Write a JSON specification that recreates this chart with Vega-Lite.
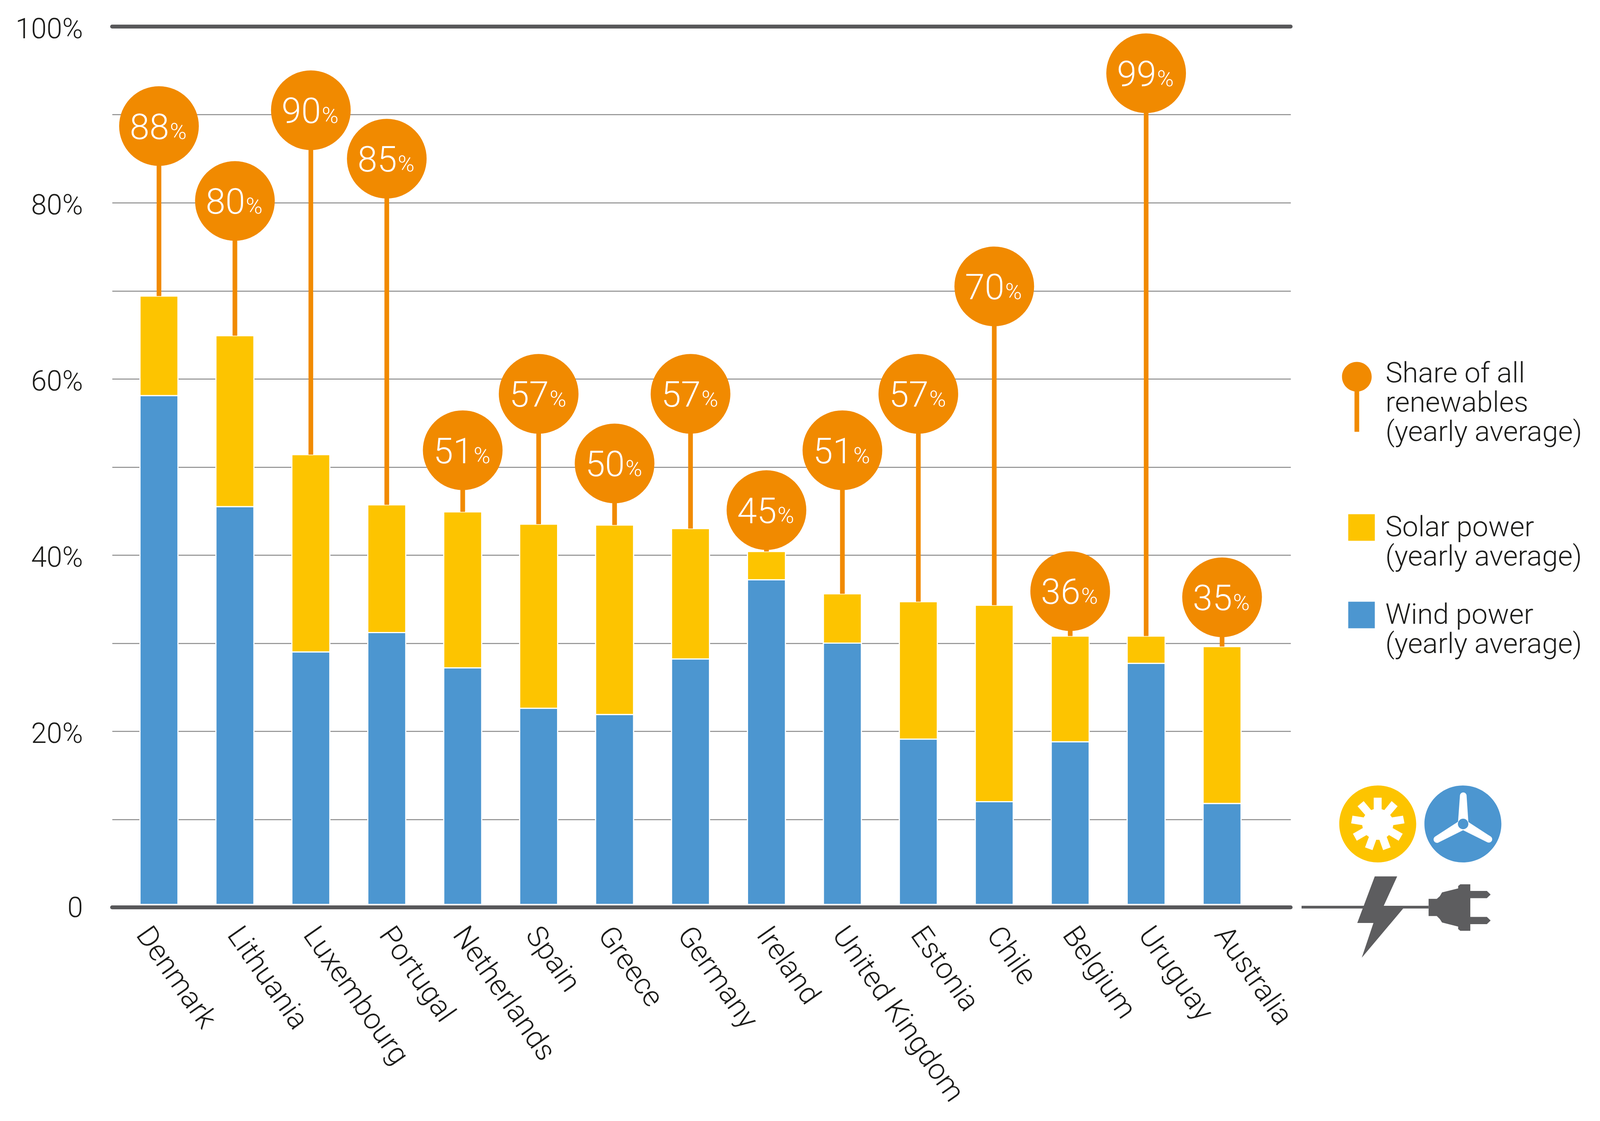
{"$schema":"https://vega.github.io/schema/vega-lite/v6.json","autosize":"none","width":3017,"height":2255,"padding":{"left":287,"top":68,"right":792,"bottom":547},"background":"white","config":{"view":{"stroke":null},"text":{"font":"Roboto"}},"datasets":{"bars":[{"country":"Denmark","source":"Wind power|(yearly average)","value":58.1},{"country":"Denmark","source":"Solar power|(yearly average)","value":11.3},{"country":"Lithuania","source":"Wind power|(yearly average)","value":45.5},{"country":"Lithuania","source":"Solar power|(yearly average)","value":19.4},{"country":"Luxembourg","source":"Wind power|(yearly average)","value":29},{"country":"Luxembourg","source":"Solar power|(yearly average)","value":22.4},{"country":"Portugal","source":"Wind power|(yearly average)","value":31.2},{"country":"Portugal","source":"Solar power|(yearly average)","value":14.5},{"country":"Netherlands","source":"Wind power|(yearly average)","value":27.2},{"country":"Netherlands","source":"Solar power|(yearly average)","value":17.7},{"country":"Spain","source":"Wind power|(yearly average)","value":22.6},{"country":"Spain","source":"Solar power|(yearly average)","value":20.9},{"country":"Greece","source":"Wind power|(yearly average)","value":21.9},{"country":"Greece","source":"Solar power|(yearly average)","value":21.5},{"country":"Germany","source":"Wind power|(yearly average)","value":28.2},{"country":"Germany","source":"Solar power|(yearly average)","value":14.8},{"country":"Ireland","source":"Wind power|(yearly average)","value":37.2},{"country":"Ireland","source":"Solar power|(yearly average)","value":3.2},{"country":"United Kingdom","source":"Wind power|(yearly average)","value":30},{"country":"United Kingdom","source":"Solar power|(yearly average)","value":5.6},{"country":"Estonia","source":"Wind power|(yearly average)","value":19.1},{"country":"Estonia","source":"Solar power|(yearly average)","value":15.6},{"country":"Chile","source":"Wind power|(yearly average)","value":12},{"country":"Chile","source":"Solar power|(yearly average)","value":22.3},{"country":"Belgium","source":"Wind power|(yearly average)","value":18.8},{"country":"Belgium","source":"Solar power|(yearly average)","value":12},{"country":"Uruguay","source":"Wind power|(yearly average)","value":27.7},{"country":"Uruguay","source":"Solar power|(yearly average)","value":3.1},{"country":"Australia","source":"Wind power|(yearly average)","value":11.8},{"country":"Australia","source":"Solar power|(yearly average)","value":17.8}],"share":[{"country":"Denmark","share":88,"marker":88.7,"top":69.4},{"country":"Lithuania","share":80,"marker":80.2,"top":64.9},{"country":"Luxembourg","share":90,"marker":90.5,"top":51.4},{"country":"Portugal","share":85,"marker":85,"top":45.7},{"country":"Netherlands","share":51,"marker":51.9,"top":44.9},{"country":"Spain","share":57,"marker":58.3,"top":43.5},{"country":"Greece","share":50,"marker":50.4,"top":43.4},{"country":"Germany","share":57,"marker":58.3,"top":43},{"country":"Ireland","share":45,"marker":45.1,"top":40.4},{"country":"United Kingdom","share":51,"marker":51.9,"top":35.6},{"country":"Estonia","share":57,"marker":58.3,"top":34.7},{"country":"Chile","share":70,"marker":70.5,"top":34.3},{"country":"Belgium","share":36,"marker":35.9,"top":30.8},{"country":"Uruguay","share":99,"marker":94.7,"top":30.8},{"country":"Australia","share":35,"marker":35.2,"top":29.6}]},"layer":[{"data":{"name":"bars"},"mark":{"type":"bar","stroke":"white","strokeWidth":3},"encoding":{"x":{"field":"country","type":"nominal","sort":null,"title":null,"scale":{"paddingInner":0.5,"paddingOuter":0.51,"align":0.36},"axis":{"domain":false,"ticks":false,"grid":false,"labelAngle":55,"labelAlign":"left","labelBaseline":"middle","labelPadding":57,"labelOffset":{"condition":[{"test":"datum.value=='Denmark'","value":-42},{"test":"datum.value=='Greece'","value":-26},{"test":"datum.value=='Germany'||datum.value=='Spain'","value":-17},{"test":"datum.value=='Netherlands'||datum.value=='Ireland'||datum.value=='United Kingdom'","value":-9}],"value":-3},"labelFont":"Roboto","labelFontWeight":300,"labelFontSize":75,"labelColor":"#1d1d1b","labelLimit":1200,"labelOverlap":false,"labelBound":false}},"y":{"field":"value","type":"quantitative","stack":"zero","title":null,"scale":{"domain":[0,100],"nice":false},"axis":{"domain":false,"ticks":false,"values":[0,10,20,30,40,50,60,70,80,90,100],"labelExpr":"datum.value==0?'0':(datum.value%20?'':datum.value+'%')","labelPadding":75,"labelOffset":{"condition":{"test":"datum.value==0","value":2},"value":7},"labelFont":"Roboto","labelFontWeight":300,"labelFontSize":72,"labelColor":"#1d1d1b","gridColor":"#8a8a8a","gridWidth":2.5,"labelOverlap":false,"labelBound":false}},"order":{"field":"source","sort":"descending"},"fill":{"field":"source","type":"nominal","sort":null,"scale":{"domain":["Solar power|(yearly average)","Wind power|(yearly average)"],"range":["#FDC400","#4C96D0"]},"legend":{"orient":"none","legendX":3162,"legendY":1246,"title":null,"symbolType":"square","symbolSize":4624,"symbolStrokeWidth":0,"rowPadding":75,"labelExpr":"split(datum.label,'|')","labelFont":"Roboto","labelFontWeight":300,"labelFontSize":73,"labelColor":"#1d1d1b","labelOffset":24.5,"labelLimit":800,"encoding":{"labels":{"update":{"lineHeight":{"value":79}}}}}}}},{"data":{"values":[{"y":0}]},"mark":{"type":"rule","stroke":"white","strokeWidth":18},"encoding":{"y":{"field":"y","type":"quantitative"}}},{"data":{"values":[{"y":0},{"y":100}]},"mark":{"type":"rule","stroke":"#58585a","strokeWidth":10,"strokeCap":"round"},"encoding":{"y":{"field":"y","type":"quantitative"}}},{"data":{"name":"share"},"mark":{"type":"rule","strokeWidth":12},"encoding":{"x":{"field":"country","type":"nominal","sort":null},"y":{"field":"marker","type":"quantitative"},"y2":{"field":"top"},"stroke":{"datum":"Share of all|renewables|(yearly average)","scale":{"range":["#F18A00"]},"legend":{"orient":"none","legendX":3150,"legendY":852,"title":null,"symbolType":"M-38,8A38,38 0 1,1 38,8A38,38 0 1,1 -38,8Z M-6,36H6V149H-6Z","symbolSize":4,"symbolFillColor":"#F18A00","symbolStrokeWidth":0,"labelExpr":"split(datum.label,'|')","labelFont":"Roboto","labelFontWeight":300,"labelFontSize":73,"labelColor":"#1d1d1b","labelOffset":37,"labelLimit":800,"encoding":{"labels":{"update":{"lineHeight":{"value":79}}}}}}}},{"data":{"name":"share"},"mark":{"type":"circle","size":41616,"fill":"#F18A00","opacity":1},"encoding":{"x":{"field":"country","type":"nominal","sort":null},"y":{"field":"marker","type":"quantitative"}}},{"data":{"name":"share"},"mark":{"type":"text","align":"right","baseline":"alphabetic","dx":26,"dy":33,"fill":"white","font":"Roboto","fontWeight":300,"fontSize":91},"encoding":{"x":{"field":"country","type":"nominal","sort":null},"y":{"field":"marker","type":"quantitative"},"text":{"field":"share","type":"quantitative"}}},{"data":{"name":"share"},"mark":{"type":"text","align":"left","baseline":"alphabetic","dx":28,"dy":33,"fill":"white","font":"Roboto","fontWeight":300,"fontSize":58,"text":"%"},"encoding":{"x":{"field":"country","type":"nominal","sort":null},"y":{"field":"marker","type":"quantitative"}}},{"data":{"values":[{"icon":"sun"}]},"mark":{"type":"point","filled":true,"opacity":1,"fill":"#FDC400","size":4,"x":3240,"y":2041.5,"shape":"M-98.5,0A98.5,98.5 0 1,0 98.5,0A98.5,98.5 0 1,0 -98.5,0Z M-10.3,-67.3L10,-67.3L10,-38L16.8,-35.6L35.6,-58.4L50.9,-45.3L31.8,-22.9L36.4,-16.7L64.7,-21.2L68.5,-1.5L39.8,2.9L38.3,10.5L63.9,25L53.6,42.9L28.7,28.4L23,33.2L32.9,60.1L13.8,67L4.2,40.5L-3.8,40.5L-13.4,67L-32.5,60.1L-22.6,33.2L-28.7,28.4L-53.6,42.9L-63.5,25L-38.3,10.5L-39.8,2.9L-68.1,-1.5L-64.7,-21.2L-36,-16.7L-32.1,-22.9L-51.7,-45.3L-36,-58.4L-16.8,-35.6L-10.3,-38Z"}},{"data":{"values":[{"icon":"wind"}]},"mark":{"type":"point","filled":true,"opacity":1,"fill":"#4C96D0","size":4,"x":3458,"y":2041.5,"shape":"M-98.5,0A98.5,98.5 0 1,0 98.5,0A98.5,98.5 0 1,0 -98.5,0Z M-7.5,-73.2A8.5,8.5 0 0,1 9.4,-73.2L14,-5L71.8,32.5A8.6,8.6 0 0,1 62.2,46.7L0.6,16L-61,46.7A8.6,8.6 0 0,1 -71.4,32.5L-12.4,-5.7Z M-12.8,0A13.4,13.4 0 1,0 14,0A13.4,13.4 0 1,0 -12.8,0Z"}},{"data":{"values":[{"icon":"plug"}]},"mark":{"type":"point","filled":true,"opacity":1,"fill":"#5d5d5f","size":4,"x":3220,"y":2252,"shape":"M-175,-1H150V6H-175Z M12.4,-76.3L69.8,-76.3L35.4,-1L85.1,6L-20.9,132L9,43L-32.4,43Z M150.2,-18.8L171.2,-18.8L178.9,-25.6L184.6,-35.3L225.9,-45.6L225.9,-51.5L231.3,-56L257,-56L257,-39.1L299.4,-39.1L309,-29.8L299.4,-20.5L257,-20.5L257,27.4L299.4,27.4L309,36.7L299.4,46L257,46L257,62.9L231.3,62.9L225.9,58.4L225.9,52.2L184.6,41.8L178.9,32.9L171.2,25.3L150.2,25.3Z"}}]}
